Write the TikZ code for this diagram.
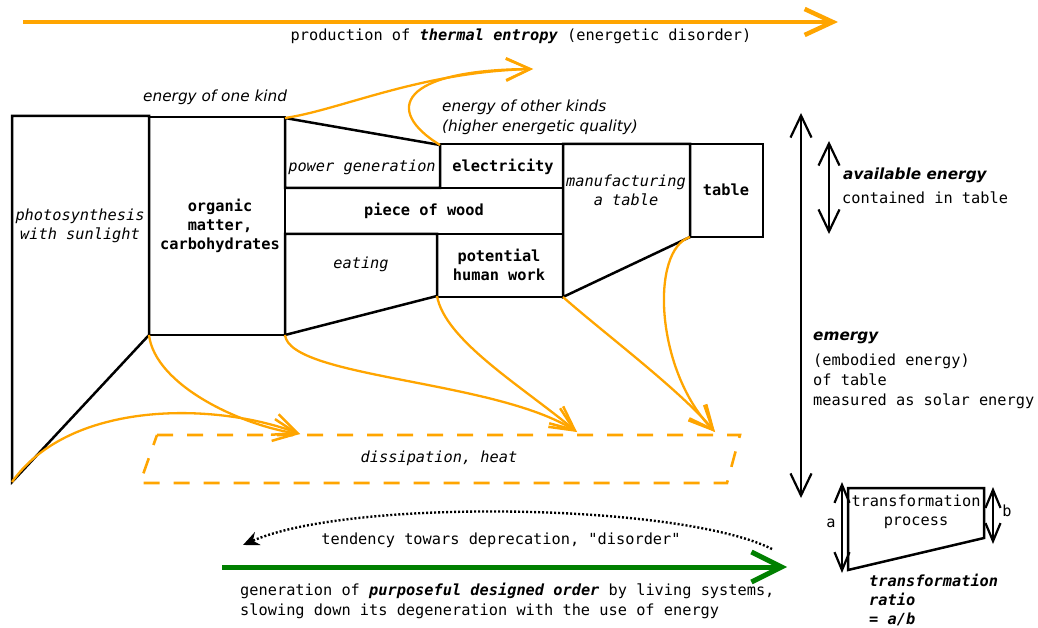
\documentclass[tikz,border=0pt]{standalone}
\usepackage{fontspec}
\setmonofont{DejaVu Sans Mono}
\setsansfont{DejaVu Sans}
\renewcommand\familydefault{\ttdefault}
\usetikzlibrary{arrows.meta}
\definecolor{flow}{RGB}{255,165,0}
\definecolor{order}{RGB}{0,128,0}
\tikzset{
  txt/.style={inner sep=0pt, align=center},
  ltxt/.style={inner sep=0pt, align=left, anchor=west},
  stage/.style={draw, line width=2.5pt, line join=miter},
  heatflow/.style={draw=flow, line width=2.3pt,
    -{Straight Barb[length=24pt,width=22pt,line width=2.5pt]}},
  measure/.style={draw, line width=2.2pt,
    {Straight Barb[length=22pt,width=21pt]}-{Straight Barb[length=22pt,width=21pt]}},
  smallmeasure/.style={draw, line width=2.2pt,
    {Straight Barb[length=18pt,width=15pt]}-{Straight Barb[length=18pt,width=15pt]}},
}
\begin{document}
\begin{tikzpicture}[x=1pt, y=-1pt, font=\ttfamily\fontsize{15.3}{19}\selectfont]
\useasboundingbox (0,0) rectangle (1038,628);

% thermal entropy arrow
\coordinate (entA) at (23,22);
\coordinate (entB) at (838,22);
\draw[flow, line width=4pt, -{Straight Barb[length=28pt,width=26pt,line width=4.5pt]}] (entA) -- (entB);
\node[txt] (entlbl) at (521,36) {production of \textbf{\textit{thermal entropy}} (energetic disorder)};

% corner points of the stages
\coordinate (ph1) at (12,116);
\coordinate (ph2) at (149,116);
\coordinate (ph3) at (149,335);
\coordinate (ph4) at (12,482);
\coordinate (or1) at (149,117);
\coordinate (or2) at (285,118);
\coordinate (or3) at (285,335);
\coordinate (pw2) at (440,145);
\coordinate (pw3) at (440,188);
\coordinate (el1) at (440,144);
\coordinate (el3) at (563,188);
\coordinate (wd1) at (285,188);
\coordinate (wd3) at (563,234);
\coordinate (ea2) at (437,234);
\coordinate (ea3) at (437,296);
\coordinate (hw3) at (563,297);
\coordinate (mf1) at (563,144);
\coordinate (mf2) at (690,144);
\coordinate (mf3) at (690,237);
\coordinate (tb3) at (763,237);

% stages
\draw[stage] (ph1) -- (ph2) -- (ph3) -- (ph4) -- cycle;
\draw[stage] (or1) rectangle (or3);
\draw[stage] (or2) -- (pw2) -- (pw3) -- (wd1) -- cycle;
\draw[stage] (el1) rectangle (el3);
\draw[stage] (wd1) rectangle (wd3);
\draw[stage] (285,234) -- (ea2) -- (ea3) -- (or3) -- cycle;
\draw[stage] (ea2) rectangle (hw3);
\draw[stage] (mf1) -- (mf2) -- (mf3) -- (hw3) -- cycle;
\draw[stage] (mf2) rectangle (tb3);

\node[txt] (photo) at (80,226) {\itshape photosynthesis\\\itshape with sunlight};
\node[txt] (organic) at (220,226) {\bfseries organic\\\bfseries matter,\\\bfseries carbohydrates};
\node[txt] (power) at (362,167) {\itshape power generation};
\node[txt] (elec) at (503,167) {\bfseries electricity};
\node[txt] (wood) at (424,211) {\bfseries piece of wood};
\node[txt] (eating) at (361,264) {\itshape eating};
\node[txt] (human) at (499,265) {\bfseries potential\\\bfseries human work};
\node[txt] (manuf) at (626,190) {\itshape manufacturing\\\itshape a table};
\node[txt] (table) at (726,190) {\bfseries table};

\node[ltxt] (onekind) at (143,97) {\sffamily\itshape energy of one kind};
\node[ltxt, font=\fontsize{15.3}{20}\selectfont] (otherkind) at (442,117)
  {\sffamily\itshape energy of other kinds\\\sffamily\itshape (higher energetic quality)};

% energy of other kinds
\coordinate (hq) at (533,69);
\draw[heatflow] (or2) .. controls (340,110) and (420,72) .. (hq);
\draw[heatflow] (pw2) .. controls (383,110) and (400,70) .. (hq);

% dissipation
\coordinate (d1) at (300,434);
\coordinate (d2) at (577,432);
\coordinate (d3) at (715,432);
\draw[flow, line width=2.6pt, dash pattern=on 16pt off 14pt]
  (157,435) -- (740,435) -- (727,483) -- (140,483) -- cycle;
\node[txt] (heat) at (439,458) {\itshape dissipation, heat};
\draw[heatflow] (ph3) .. controls (155,385) and (240,425) .. (d1);
\draw[heatflow] (ph4) .. controls (70,400) and (215,402) .. (d1);
\draw[heatflow] (or3) .. controls (290,378) and (495,380) .. (d2);
\draw[heatflow] (ea3) .. controls (445,340) and (520,385) .. (d2);
\draw[heatflow] (hw3) .. controls (600,330) and (680,390) .. (d3);
\draw[heatflow] (mf3) .. controls (650,250) and (655,370) .. (d3);

% emergy and available energy
\coordinate (em1) at (801,113);
\coordinate (em2) at (801,498);
\draw[measure] (em1) -- (em2);
\coordinate (av1) at (829,141);
\coordinate (av2) at (829,234);
\draw[measure] (av1) -- (av2);
\node[ltxt] (avail) at (843,175) {\sffamily\bfseries\itshape available energy};
\node[ltxt] (contained) at (842,198) {contained in table};
\node[ltxt] (emergy) at (813,338) {\sffamily\bfseries\itshape emergy};
\node[ltxt, font=\fontsize{15.3}{20}\selectfont] (embodied) at (813,381)
  {(embodied energy)\\of table\\measured as solar energy};

% transformation ratio
\coordinate (tr1) at (848,488);
\coordinate (tr2) at (984,488);
\coordinate (tr3) at (984,538);
\coordinate (tr4) at (848,570);
\draw[stage] (tr1) -- (tr2) -- (tr3) -- (tr4) -- cycle;
\node[txt] (trproc) at (916,512) {transformation\\process};
\coordinate (ra1) at (842,482);
\coordinate (ra2) at (842,573);
\draw[smallmeasure] (ra1) -- (ra2);
\node[txt] (alab) at (831,523) {a};
\coordinate (rb1) at (993,487);
\coordinate (rb2) at (993,544);
\draw[smallmeasure] (rb1) -- (rb2);
\node[txt] (blab) at (1007,511) {b};
\node[ltxt, font=\fontsize{15.3}{19}\selectfont] (ratio) at (869,600)
  {\bfseries\itshape transformation\\\bfseries\itshape ratio\\\bfseries\itshape = a/b};

% order and disorder
\coordinate (ds1) at (772,549);
\coordinate (ds2) at (243,545);
\draw[line width=2.4pt, dash pattern=on 2pt off 2pt, -{Stealth[length=16pt,width=14pt]}]
  (ds1) .. controls (680,503) and (350,498) .. (ds2);
\node[txt] (tend) at (501,540) {tendency towars deprecation, "disorder"};
\coordinate (go1) at (222,567);
\coordinate (go2) at (787,567);
\draw[order, line width=5pt, -{Straight Barb[length=30pt,width=30pt,line width=5pt]}] (go1) -- (go2);
\node[ltxt, font=\fontsize{15.3}{20}\selectfont] (gen) at (240,601)
  {generation of \textbf{\textit{purposeful designed order}} by living systems,\\slowing down its degeneration with the use of energy};
\end{tikzpicture}
\end{document}
